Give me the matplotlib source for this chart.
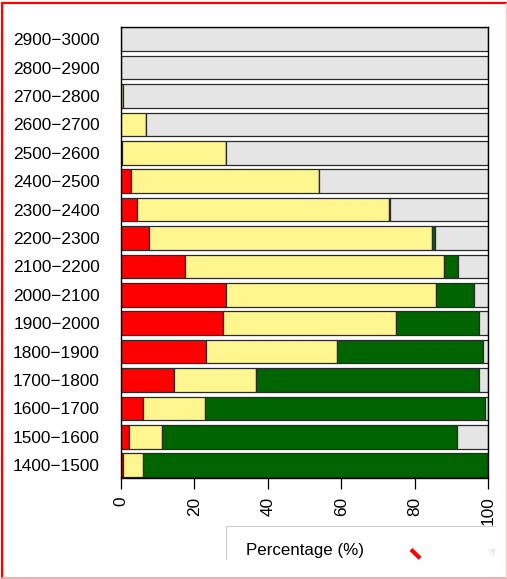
import matplotlib
matplotlib.use("Agg")
import matplotlib.pyplot as plt
import numpy as np
from matplotlib.patches import Rectangle
from matplotlib.lines import Line2D

plt.rcParams['font.family'] = ['Liberation Sans', 'DejaVu Sans']

categories = ["1400\u22121500", "1500\u22121600", "1600\u22121700", "1700\u22121800",
              "1800\u22121900", "1900\u22122000", "2000\u22122100", "2100\u22122200",
              "2200\u22122300", "2300\u22122400", "2400\u22122500", "2500\u22122600",
              "2600\u22122700", "2700\u22122800", "2800\u22122900", "2900\u22123000"]
red_vals    = [0.7, 2.3, 6.0, 14.6, 23.2, 27.9, 28.6, 17.5, 7.6, 4.4, 2.9, 0.45, 0.0, 0.0, 0.0, 0.0]
yellow_vals = [5.3, 8.9, 16.8, 22.3, 35.6, 46.9, 57.2, 70.5, 77.0, 68.7, 51.1, 28.15, 6.9, 0.6, 0.0, 0.0]
green_vals  = [93.8, 80.2, 76.2, 60.7, 39.7, 22.6, 10.3, 3.7, 0.8, 0.2, 0.0, 0.0, 0.0, 0.0, 0.0, 0.0]
gray_vals   = [0.2, 8.6, 1.0, 2.4, 1.5, 2.6, 3.9, 8.3, 14.6, 26.7, 46.0, 71.4, 93.1, 99.4, 100.0, 100.0]
xticks = [0, 20, 40, 60, 80, 100]
xlabel_text = "Percentage (%)"

colors = ["#FF0000", "#FFF68F", "#006400", "#E5E5E5"]
series = [red_vals, yellow_vals, green_vals, gray_vals]

W, H = 507, 579
fig = plt.figure(figsize=(W / 100, H / 100), dpi=100)
ax = fig.add_axes([120.7 / W, 1 - 477.7 / H, (488.3 - 120.7) / W, (477.7 - 26.7) / H])

y = np.arange(len(categories))
bh = 0.833
left = np.zeros(len(categories))
for vals, c in zip(series, colors):
    vals = np.array(vals)
    ax.barh(y, vals, left=left, height=bh, color=c, edgecolor="#2a2a2a", linewidth=0.9)
    left += vals

ax.set_xlim(0, 100)
ax.set_ylim(-bh / 2 - 0.02, len(categories) - 1 + bh / 2 + 0.02)
ax.set_yticks(y)
ax.set_yticklabels(categories, fontsize=12.4)
ax.tick_params(axis='y', length=0, pad=15)
ax.set_xticks(xticks)
ax.set_xticklabels([str(t) for t in xticks], rotation=90, fontsize=12.4)
ax.tick_params(axis='x', length=7.6, width=0.9, pad=6)
for s in ax.spines.values():
    s.set_linewidth(1.0)
    s.set_color("black")

def px(x, y_):
    return x / W, 1 - y_ / H

# overlay box with label
bx0, by0 = px(226, 558.5)
bx1, by1 = px(495, 525.5)
fig.patches.append(Rectangle((bx0, by0), bx1 - bx0, by1 - by0, transform=fig.transFigure,
                             facecolor="white", edgecolor="none", zorder=5))
fig.lines.append(Line2D([bx0, bx0, bx1], [by0, by1, by1], transform=fig.transFigure,
                        color="#d0d0d0", linewidth=0.8, zorder=6))
tx, ty = px(246, 550)
fig.text(tx, ty, xlabel_text, fontsize=12.2, ha="left", va="center", zorder=7)

# faint gradient corner
gx0, gy0 = px(487, 558.5)
gx1, gy1 = px(495, 549)
g = np.linspace(0, 1, 20)
img = np.outer(g[::-1], g)
gax = fig.add_axes([gx0, gy0, gx1 - gx0, gy1 - gy0], zorder=8)
gax.imshow(img, cmap="Greys", vmin=0, vmax=4, aspect="auto", origin="upper")
gax.axis("off")

# red slash
s0 = px(411, 549.5)
s1 = px(420, 558.3)
fig.lines.append(Line2D([s0[0], s1[0]], [s0[1], s1[1]], transform=fig.transFigure,
                        color="#FF0000", linewidth=3.0, solid_capstyle="butt", zorder=9))

# red frame around figure
fig.lines.append(Line2D([2 / W, 2 / W], [1 - 577.7 / H, 1 - 3 / H], transform=fig.transFigure,
                        color="#FF0000", linewidth=1.6, zorder=10))
fig.lines.append(Line2D([2 / W, 1], [1 - 3 / H, 1 - 3 / H], transform=fig.transFigure,
                        color="#FF0000", linewidth=1.6, zorder=10))
fig.lines.append(Line2D([2 / W, 1], [1 - 577.7 / H, 1 - 577.7 / H], transform=fig.transFigure,
                        color="#FF9A9A", linewidth=1.2, zorder=10))
fig.lines.append(Line2D([506 / W, 506 / W], [1 - 577.7 / H, 1 - 3 / H], transform=fig.transFigure,
                        color="#FFC8C8", linewidth=1.0, zorder=10))

fig.savefig("out.png", dpi=100)
